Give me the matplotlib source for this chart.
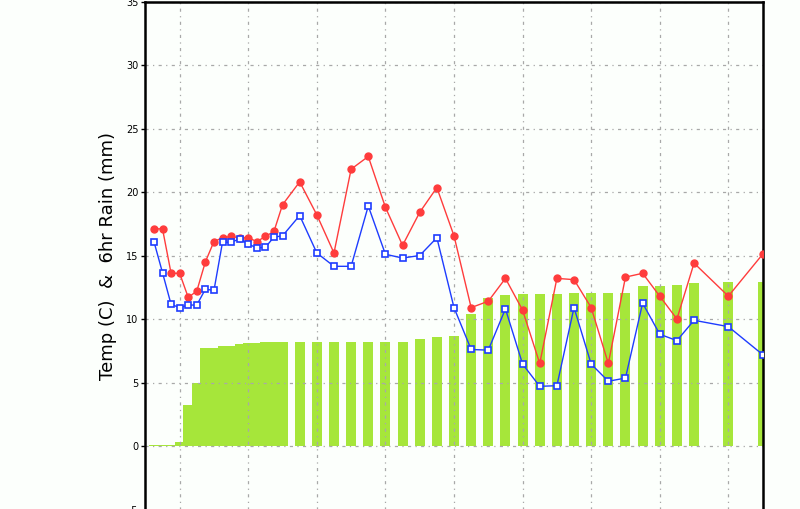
import matplotlib
matplotlib.use('Agg')
import matplotlib.pyplot as plt

# forecast hour relative to first grid line
hours = [-9, -6, -3, 0, 3, 6, 9, 12, 15, 18, 21, 24, 27, 30, 33, 36,
         42, 48, 54, 60, 66, 72, 78, 84, 90, 96, 102, 108, 114, 120, 126,
         132, 138, 144, 150, 156, 162, 168, 174, 180, 192, 204]

temp_red = [17.1, 17.1, 13.6, 13.6, 11.7, 12.2, 14.5, 16.1, 16.4, 16.5, 16.4,
            16.4, 16.1, 16.5, 16.9, 19.0, 20.8, 18.2, 15.2, 21.8, 22.8, 18.8,
            15.8, 18.4, 20.35, 16.55, 10.9, 11.4, 13.2, 10.7, 6.5, 13.2, 13.1,
            10.9, 6.5, 13.3, 13.6, 11.8, 10.0, 14.4, 11.8, 15.1]

temp_blue = [16.1, 13.65, 11.15, 10.9, 11.1, 11.1, 12.35, 12.25, 16.05, 16.05,
             16.3, 15.9, 15.6, 15.65, 16.45, 16.55, 18.15, 15.2, 14.15, 14.15,
             18.9, 15.1, 14.8, 15.0, 16.4, 10.9, 7.6, 7.55, 10.8, 6.45, 4.7,
             4.75, 10.9, 6.45, 5.1, 5.35, 11.25, 8.8, 8.3, 9.9, 9.4, 7.2]

rain = [0.1, 0.1, 0.1, 0.3, 3.25, 5.0, 7.75, 7.75, 7.85, 7.85, 8.0, 8.1, 8.15,
        8.2, 8.2, 8.2, 8.2, 8.2, 8.2, 8.2, 8.2, 8.2, 8.2, 8.45, 8.6, 8.65,
        10.4, 11.65, 11.9, 11.95, 11.95, 11.95, 12.05, 12.05, 12.05, 12.05,
        12.6, 12.6, 12.7, 12.85, 12.9, 12.9]

grid_hours = [0, 24, 48, 72, 96, 120, 144, 168, 192]
yticks = [-5, 0, 5, 10, 15, 20, 25, 30, 35]

bg = '#fcfffc'
fig = plt.figure(figsize=(8, 5.09), dpi=100, facecolor=bg)
ax = fig.add_axes([0.1817, -0.001, 0.7716, 0.998], facecolor=bg)

ax.bar(hours, rain, width=3.5, color='#a6e63a', zorder=1)
ax.plot(hours, temp_red, color='#ff3c3c', lw=1, marker='o', ms=5,
        mfc='#ff3c3c', mec='#ff3c3c', zorder=4)
ax.plot(hours, temp_blue, color='#1e3cff', lw=1, marker='s', ms=5,
        mfc='white', mec='#1e3cff', mew=1.2, zorder=5)

ax.set_xlim(-12, 204)
ax.set_ylim(-5, 35)
ax.set_xticks(grid_hours)
ax.set_xticklabels([])
ax.set_yticks(yticks)
ax.tick_params(axis='x', length=0)
ax.tick_params(axis='y', direction='out', length=3, width=1, pad=2, labelsize=7)
ax.grid(True, color='#a8a8a8', lw=0.9, linestyle=(0, (2.5, 3.5, 1, 3.5)))
for ln in ax.get_xgridlines() + ax.get_ygridlines():
    ln.set_zorder(2)

for side in ['left', 'right', 'top']:
    ax.spines[side].set_linewidth(1.8)
ax.spines['bottom'].set_visible(False)

fig.text(0.135, 0.497, 'Temp (C)  &  6hr Rain (mm)', rotation=90,
         ha='center', va='center', fontsize=13)

fig.savefig('out.png', dpi=100, facecolor=bg)
